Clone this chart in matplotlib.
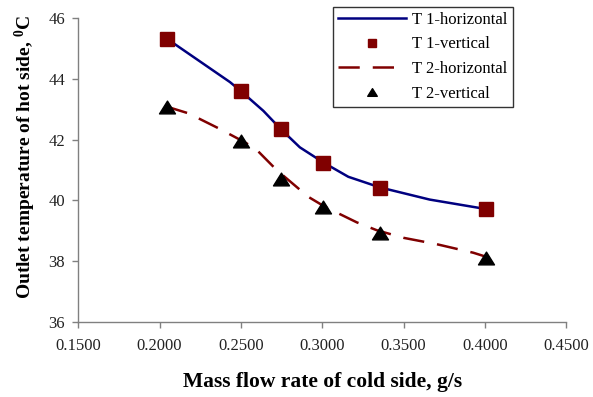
import matplotlib
matplotlib.use("Agg")
import matplotlib.pyplot as plt
from matplotlib.path import Path

# ---- data ----
x_vertical = [0.2044, 0.2500, 0.2745, 0.3007, 0.3355, 0.4004]
t1_vertical = [45.33, 43.62, 42.34, 41.24, 40.42, 39.72]
t2_vertical = [43.09, 41.97, 40.70, 39.79, 38.92, 38.09]

x_t1_horizontal = [0.2044, 0.2432, 0.2500, 0.2638, 0.2745, 0.2862, 0.3007, 0.3160, 0.3355, 0.3660, 0.4004]
t1_horizontal = [45.33, 43.90, 43.60, 42.95, 42.35, 41.75, 41.25, 40.78, 40.43, 40.03, 39.72]

x_t2_horizontal = [0.2044, 0.2177, 0.2361, 0.2505, 0.2587, 0.2720, 0.2914, 0.3017, 0.3212, 0.3335, 0.3500, 0.3704, 0.3928, 0.4005]
t2_horizontal = [43.09, 42.87, 42.38, 41.97, 41.72, 41.00, 40.12, 39.79, 39.28, 39.02, 38.77, 38.56, 38.28, 38.15]

x_ticks = [0.15, 0.20, 0.25, 0.30, 0.35, 0.40, 0.45]
x_tick_labels = ["0.1500", "0.2000", "0.2500", "0.3000", "0.3500", "0.4000", "0.4500"]
y_ticks = [36, 38, 40, 42, 44, 46]

plt.rcParams['font.family'] = ['Liberation Serif', 'DejaVu Serif']
plt.rcParams['mathtext.fontset'] = 'custom'
plt.rcParams['mathtext.rm'] = 'Liberation Serif'
plt.rcParams['mathtext.bf'] = 'Liberation Serif:bold'

fig = plt.figure(figsize=(5.93, 3.97), dpi=100)
ax = fig.add_axes([0.132, 0.189, 0.823, 0.765])

navy = '#000080'
maroon = '#800000'

tri = Path([(-1, -0.8), (1, -0.8), (0, 0.8), (-1, -0.8)],
           [Path.MOVETO, Path.LINETO, Path.LINETO, Path.CLOSEPOLY])

ax.plot(x_t1_horizontal, t1_horizontal, color=navy, lw=1.8, label='T 1-horizontal', zorder=2)
ax.plot(x_vertical, t1_vertical, ls='none', marker='s', ms=10.5, color=maroon,
        markeredgecolor=maroon, label='T 1-vertical', zorder=3)
ax.plot(x_t2_horizontal, t2_horizontal, color=maroon, lw=1.8, dashes=(8.5, 5.2),
        label='T 2-horizontal', zorder=2)
ax.plot(x_vertical, t2_vertical, ls='none', marker=tri, ms=11.5, color='black',
        label='T 2-vertical', zorder=3)

ax.set_xlim(0.15, 0.45)
ax.set_ylim(36, 46)
ax.set_xticks(x_ticks)
ax.set_xticklabels(x_tick_labels)
ax.set_yticks(y_ticks)

for s in ['top', 'right']:
    ax.spines[s].set_visible(False)
for s in ['left', 'bottom']:
    ax.spines[s].set_color('#808080')
    ax.spines[s].set_linewidth(1.0)

ax.tick_params(axis='both', direction='out', length=4.5, width=1.0, color='#808080',
               labelsize=12, labelcolor='#222222')
ax.tick_params(axis='x', pad=7)
ax.tick_params(axis='y', pad=5)

ax.set_xlabel('Mass flow rate of cold side, g/s', fontsize=15.5, fontweight='bold', labelpad=13)
ax.set_ylabel(r'Outlet temperature of hot side, $\mathbf{^{0}}$C', fontsize=14, fontweight='bold')
ax.yaxis.set_label_coords(-0.083, 0.544)

leg = ax.legend(loc='upper left', bbox_to_anchor=(0.522, 1.038), borderaxespad=0,
                fontsize=12, frameon=True, fancybox=False, edgecolor='black',
                handlelength=4.1, handletextpad=0.35, labelspacing=0.52,
                borderpad=0.3, markerscale=0.6)
leg.get_frame().set_linewidth(1.0)

fig.savefig('out.png', dpi=100)
